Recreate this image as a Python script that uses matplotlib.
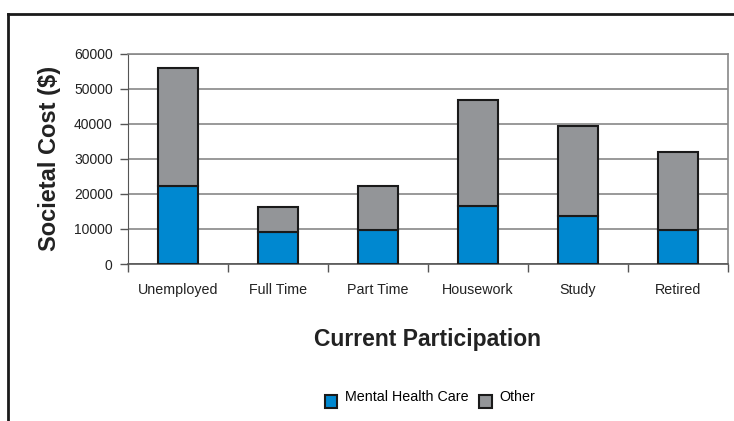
import numpy as np
import matplotlib
matplotlib.use("Agg")
import matplotlib.pyplot as plt
from matplotlib.lines import Line2D
from matplotlib.transforms import ScaledTranslation

plt.rcParams['font.family'] = ['Liberation Sans', 'DejaVu Sans']

categories = ['Unemployed', 'Full Time', 'Part Time', 'Housework', 'Study', 'Retired']
mental_health = [22300, 9200, 9700, 16500, 13700, 9700]
totals = [56000, 16200, 22300, 46800, 39300, 32000]
other = [t - m for t, m in zip(totals, mental_health)]

blue = '#0088d0'
grey = '#939598'

fig = plt.figure(figsize=(7.34, 4.21), dpi=100)
ax = fig.add_axes([128 / 734, 1 - 264 / 421, 600 / 734, 210.5 / 421])

x = np.arange(len(categories))
ax.bar(x, mental_health, width=0.4, color=blue, edgecolor='#1a1a1a', linewidth=1.5, zorder=3,
       label='Mental Health Care')
ax.bar(x, other, bottom=mental_health, width=0.4, color=grey, edgecolor='#1a1a1a', linewidth=1.5,
       zorder=3, label='Other')

ax.set_xlim(-0.5, len(categories) - 0.5)
ax.set_ylim(0, 60000)
ax.set_yticks(range(0, 60001, 10000))
ax.yaxis.grid(True, color='#888888', linewidth=1.2, zorder=0)

ax.set_xticks(x)
ax.set_xticklabels(categories, fontsize=10.3, color='#222222')
ax.set_xticks(np.arange(-0.5, len(categories)), minor=True)
ax.tick_params(axis='x', which='major', length=0, pad=14)
ax.tick_params(axis='x', which='minor', length=6, width=1, color='#555555', direction='out')
ax.tick_params(axis='y', length=6, width=1, color='#555555', labelsize=10, labelcolor='#222222', pad=5)

for side in ['top', 'right']:
    ax.spines[side].set_color('#888888')
    ax.spines[side].set_linewidth(1.2)
ax.spines['left'].set_color('#555555')
ax.spines['bottom'].set_color('#555555')
ax.spines['bottom'].set_linewidth(1.2)

ax.set_ylabel('Societal Cost ($)', fontsize=17, fontweight='bold', color='#222222', labelpad=9)
ax.set_xlabel('Current Participation', fontsize=16.5, fontweight='bold', color='#222222', labelpad=22)

handles, labels = ax.get_legend_handles_labels()
leg = fig.legend(handles, labels, loc='center', bbox_to_anchor=(0.586, 0.045), ncol=2, frameon=False,
                 fontsize=10.3, handlelength=0.85, handleheight=1.0, handletextpad=0.55,
                 columnspacing=0.75)
# legend text sits a little above the swatches in the original
for t in leg.get_texts():
    t.set_transform(t.get_transform() + ScaledTranslation(0, 0.05, fig.dpi_scale_trans))

# outer frame (top and left edges)
fig.add_artist(Line2D([8 / 734, 1], [1 - 14 / 421, 1 - 14 / 421], color='#1a1a1a', linewidth=2,
                      transform=fig.transFigure))
fig.add_artist(Line2D([8 / 734, 8 / 734], [0, 1 - 14 / 421], color='#1a1a1a', linewidth=2,
                      transform=fig.transFigure))

fig.savefig('out.png', dpi=100)
